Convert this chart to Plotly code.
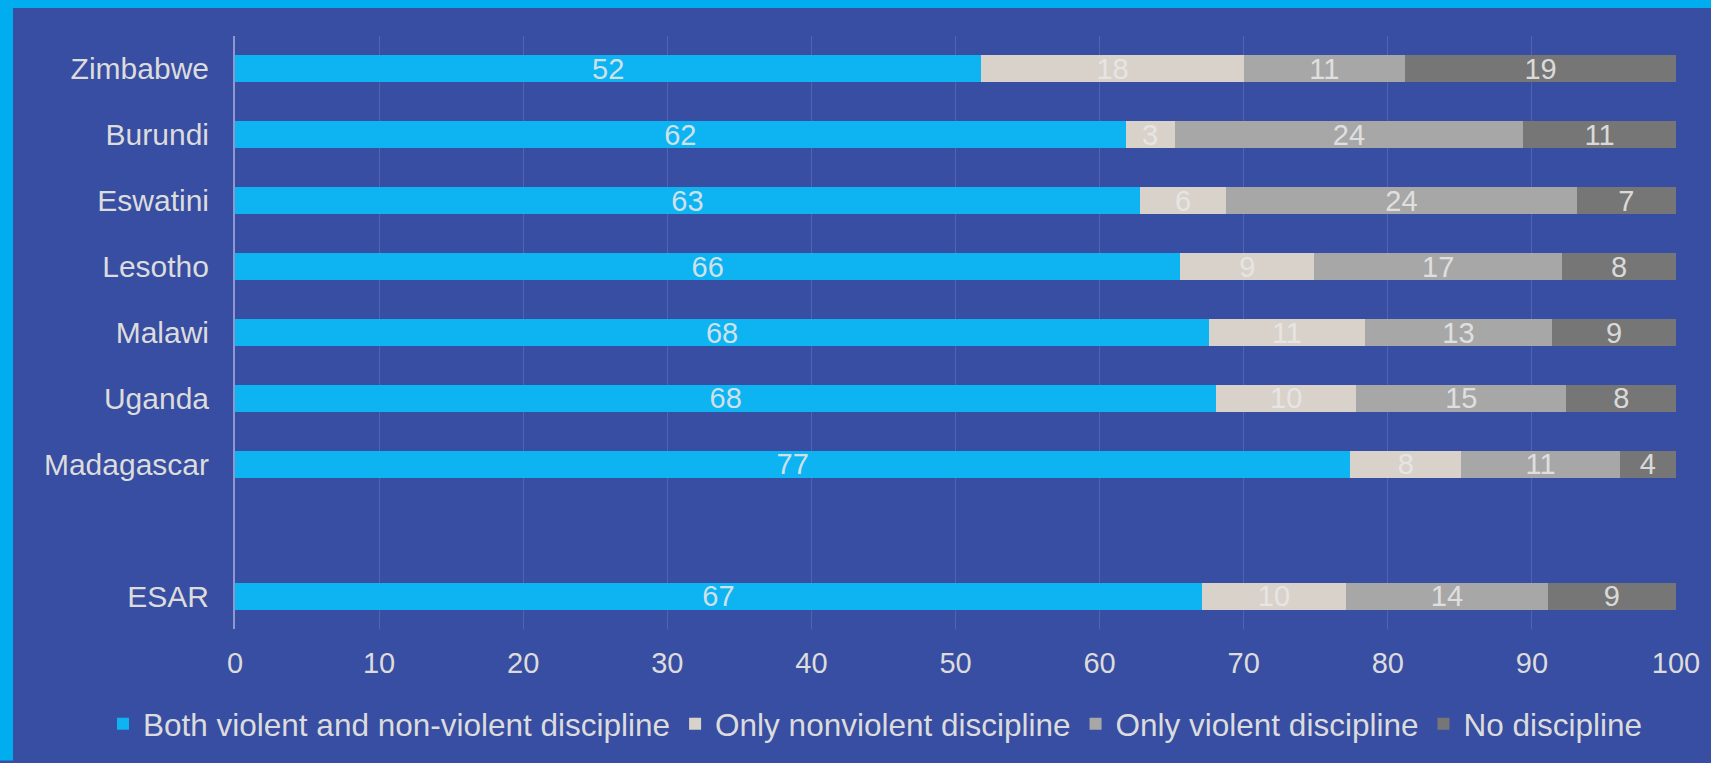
import plotly.graph_objects as go

# categories top to bottom; the blank row is the gap before ESAR
countries = ['Zimbabwe', 'Burundi', 'Eswatini', 'Lesotho', 'Malawi', 'Uganda', 'Madagascar', ' ', 'ESAR']

both_violent_nonviolent = [51.8, 61.8, 62.8, 65.6, 67.6, 68.1, 77.4, None, 67.1]
only_nonviolent = [18.2, 3.4, 6.0, 9.3, 10.8, 9.7, 7.7, None, 10.0]
only_violent = [11.2, 24.2, 24.3, 17.2, 13.0, 14.6, 11.0, None, 14.0]
no_discipline = [18.8, 10.6, 6.9, 7.9, 8.6, 7.6, 3.9, None, 8.9]

series = [
    ('Both violent and non-violent discipline', both_violent_nonviolent, '#0eb3f2'),
    ('Only nonviolent discipline', only_nonviolent, '#d9d2cb'),
    ('Only violent discipline', only_violent, '#a7a7a7'),
    ('No discipline', no_discipline, '#767676'),
]

FONT = 'Arial, Liberation Sans, sans-serif'
W, H = 1711, 763
ML, MR, MT, MB = 235, 35, 36, 132
BG = '#384ea2'
BORDER = '#00aeef'

fig = go.Figure()
for name, vals, col in series:
    fig.add_trace(go.Bar(
        y=countries, x=vals, name=name, orientation='h',
        marker=dict(color=col, line=dict(width=0)),
        texttemplate='%{x:.0f}', textposition='inside', insidetextanchor='middle',
        textangle=0, constraintext='none',
        textfont=dict(family=FONT, size=29, color='rgba(232,232,232,0.9)'),
    ))

# cyan frame strips on left and top edges (paper coords relative to plot area)
pw = W - ML - MR
ph = H - MT - MB
def px_x(p):
    return (p - ML) / pw
def px_y(p):
    return (H - MB - p) / ph

fig.add_shape(type='rect', xref='paper', yref='paper', x0=px_x(0), x1=px_x(13),
              y0=px_y(H), y1=px_y(0), fillcolor=BORDER, line=dict(width=0))
fig.add_shape(type='rect', xref='paper', yref='paper', x0=px_x(0), x1=px_x(W),
              y0=px_y(8), y1=px_y(0), fillcolor=BORDER, line=dict(width=0))

fig.update_layout(
    width=W, height=H,
    barmode='stack', bargap=0.59,
    paper_bgcolor=BG, plot_bgcolor='rgba(0,0,0,0)',
    margin=dict(l=ML, r=MR, t=MT, b=MB),
    font=dict(family=FONT, color='#dcdcdc'),
    legend=dict(orientation='h', x=px_x(103), xanchor='left', y=px_y(726), yanchor='middle',
                font=dict(size=31.5, color='#dcdcdc'), traceorder='normal',
                bgcolor='rgba(0,0,0,0)', itemwidth=30),
    showlegend=True,
)
fig.update_xaxes(range=[0, 100], dtick=10, showgrid=True, gridcolor='#5064b0', gridwidth=1,
                 zeroline=False, showline=False, ticks='outside', ticklen=8,
                 tickcolor='rgba(0,0,0,0)', tickfont=dict(size=29, color='#dcdcdc'))
fig.update_yaxes(categoryorder='array', categoryarray=countries, range=[8.5, -0.5],
                 showgrid=False, showline=True, linecolor='#8d98cf', linewidth=2,
                 ticks='outside', ticklen=18, tickcolor='rgba(0,0,0,0)',
                 tickfont=dict(size=30, color='#dcdcdc'))

fig.write_html('out.html', config={'displayModeBar': False},
               post_script="document.body.style.margin='0';")
